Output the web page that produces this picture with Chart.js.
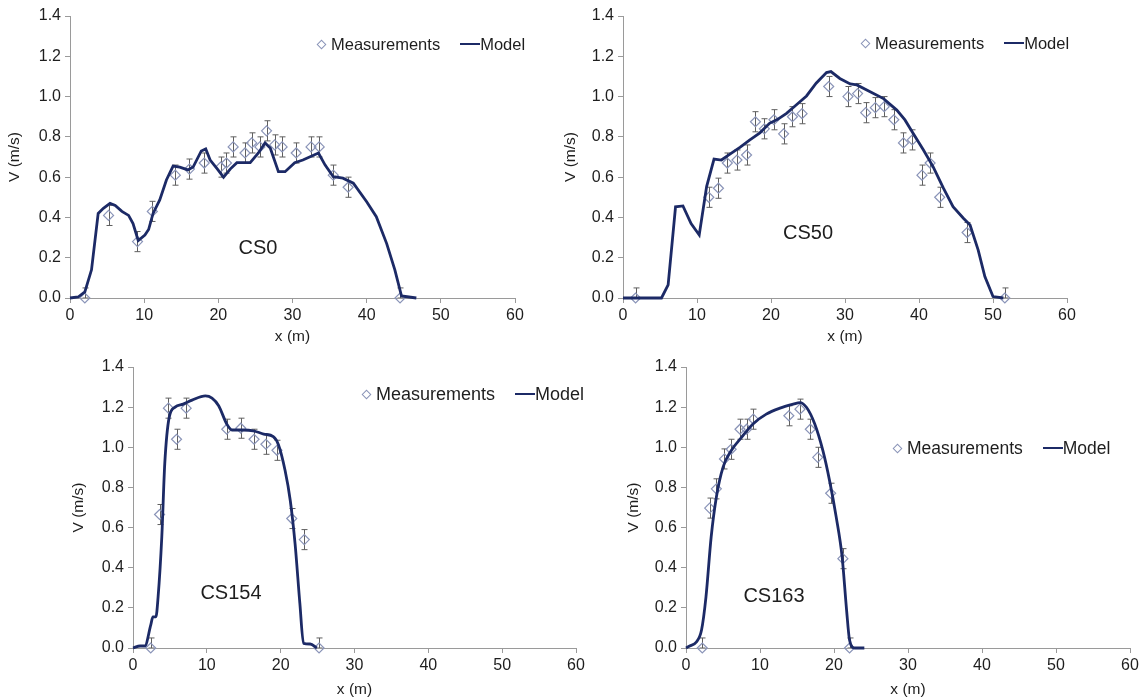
<!DOCTYPE html>
<html>
<head>
<meta charset="utf-8">
<script src="https://cdn.jsdelivr.net/npm/chart.js@4.4.1/dist/chart.umd.min.js"></script>
<style>
    body { margin: 0; background: #fff; width: 1145px; height: 700px; position: relative; overflow: hidden;
           font-family: "Liberation Sans", Arial, sans-serif; color: #1e1e1e; }
    canvas { position: absolute; }
    .legend { position: absolute; display: flex; align-items: center; white-space: nowrap; line-height: 18px; }
    .legend .diamond { width: 5px; height: 5px; border: 1px solid #8a94b8; transform: rotate(45deg); margin: 0 6px 0 2px; }
    .legend .line { width: 20px; height: 2.5px; background: #1c2a66; margin-left: 20px; }
    .cs { position: absolute; font-size: 20px; transform: translate(-50%, -50%); }
</style>
</head>
<body>
<canvas id="cs0" width="560" height="350" style="left:0;top:0"></canvas>
<canvas id="cs50" width="585" height="350" style="left:560px;top:0"></canvas>
<canvas id="cs154" width="540" height="350" style="left:60px;top:350px"></canvas>
<canvas id="cs163" width="525" height="350" style="left:620px;top:350px"></canvas>

<div class="legend" style="left:316px;top:35px;font-size:16.5px"><span class="diamond"></span>Measurements<span class="line"></span>Model</div>
<div class="legend" style="left:860px;top:34px;font-size:16.5px"><span class="diamond"></span>Measurements<span class="line"></span>Model</div>
<div class="legend" style="left:361px;top:385px;font-size:18px"><span class="diamond"></span>Measurements<span class="line"></span>Model</div>
<div class="legend" style="left:892px;top:439px;font-size:17.5px"><span class="diamond"></span>Measurements<span class="line"></span>Model</div>

<div class="cs" style="left:258px;top:247px">CS0</div>
<div class="cs" style="left:808px;top:232px">CS50</div>
<div class="cs" style="left:231px;top:592px">CS154</div>
<div class="cs" style="left:774px;top:595px">CS163</div>

<script>
// Velocity profiles
const xTicks = [0, 10, 20, 30, 40, 50, 60];
const vTicks = [0, 0.2, 0.4, 0.6, 0.8, 1.0, 1.2, 1.4];
const measErr = 0.05;

// CS0
const cs0MeasX = [2.0, 5.2, 9.1, 11.1, 14.2, 16.1, 18.1, 20.3, 21.1, 22.0, 23.6, 24.5, 25.6, 26.5, 27.6, 28.6, 30.5, 32.5, 33.6, 35.5, 37.5, 44.5];
const cs0MeasY = [0, 0.41, 0.28, 0.43, 0.61, 0.64, 0.67, 0.65, 0.67, 0.75, 0.72, 0.77, 0.75, 0.83, 0.76, 0.75, 0.72, 0.75, 0.75, 0.61, 0.55, 0];
const cs0ModelX = [0, 1.1, 2.0, 2.9, 3.8, 4.5, 5.4, 6.1, 7.0, 7.9, 8.5, 9.2, 10.1, 10.6, 11.2, 12.1, 13.0, 13.9, 14.8, 15.9, 16.6, 17.7, 18.3, 18.9, 19.8, 20.7, 21.6, 22.5, 24.3, 25.4, 26.3, 27.0, 28.1, 29.0, 30.3, 31.4, 33.5, 34.4, 35.5, 36.8, 38.2, 40.0, 41.3, 42.7, 43.8, 44.7, 46.7];
const cs0ModelY = [0, 0.005, 0.03, 0.14, 0.42, 0.445, 0.47, 0.46, 0.43, 0.41, 0.37, 0.285, 0.313, 0.34, 0.42, 0.487, 0.586, 0.655, 0.65, 0.636, 0.65, 0.73, 0.74, 0.685, 0.643, 0.6, 0.64, 0.672, 0.672, 0.72, 0.77, 0.745, 0.627, 0.627, 0.672, 0.685, 0.72, 0.66, 0.602, 0.595, 0.57, 0.478, 0.404, 0.27, 0.14, 0.01, 0];

// CS50
const cs50MeasX = [1.7, 11.6, 12.9, 14.1, 15.4, 16.7, 17.9, 19.1, 20.4, 21.7, 22.9, 24.2, 27.8, 30.4, 31.7, 32.8, 34.1, 35.3, 36.6, 37.9, 39.1, 40.4, 41.5, 42.8, 46.5, 51.6];
const cs50MeasY = [0, 0.5, 0.545, 0.67, 0.685, 0.71, 0.875, 0.84, 0.885, 0.815, 0.9, 0.915, 1.05, 1.0, 1.015, 0.92, 0.945, 0.95, 0.885, 0.77, 0.785, 0.61, 0.67, 0.5, 0.325, 0];
const cs50ModelX = [0, 5.2, 6.1, 7.1, 8.1, 9.2, 10.3, 11.3, 12.3, 13.3, 14.4, 15.8, 17.1, 18.5, 19.8, 20.9, 22.1, 23.4, 24.8, 26.1, 27.5, 28.1, 29.3, 30.7, 31.6, 33.4, 35.2, 37.0, 38.1, 39.2, 40.6, 41.9, 43.3, 44.6, 46.0, 46.9, 48.0, 48.9, 50.0, 51.4];
const cs50ModelY = [0, 0, 0.065, 0.453, 0.457, 0.37, 0.313, 0.553, 0.69, 0.685, 0.713, 0.748, 0.784, 0.82, 0.867, 0.887, 0.917, 0.958, 1.003, 1.066, 1.119, 1.124, 1.09, 1.063, 1.058, 1.024, 0.99, 0.933, 0.884, 0.818, 0.735, 0.652, 0.545, 0.453, 0.396, 0.362, 0.238, 0.106, 0.007, 0];

// CS154
const cs154MeasX = [2.4, 3.6, 4.8, 5.9, 7.2, 12.7, 14.6, 16.4, 18.0, 19.5, 21.5, 23.2, 25.2];
const cs154MeasY = [0, 0.665, 1.195, 1.04, 1.195, 1.09, 1.095, 1.04, 1.015, 0.985, 0.645, 0.54, 0];
const cs154ModelX = [0, 0.95, 1.6, 2.4, 2.7, 3.1, 3.4, 3.9, 4.3, 4.9, 5.7, 6.8, 8.0, 9.8, 10.7, 11.6, 12.7, 13.4, 14.9, 16.3, 17.7, 19.0, 19.7, 20.6, 21.3, 21.95, 22.6, 23.1, 24.0, 24.9];
const cs154ModelY = [0, 0.01, 0.01, 0.114, 0.155, 0.155, 0.255, 0.553, 0.917, 1.149, 1.2, 1.215, 1.235, 1.256, 1.245, 1.207, 1.116, 1.086, 1.086, 1.082, 1.066, 1.053, 1.013, 0.884, 0.735, 0.52, 0.222, 0.023, 0.02, 0];

// CS163
const cs163MeasX = [2.2, 3.2, 4.1, 5.2, 6.1, 7.3, 8.2, 9.1, 13.9, 15.4, 16.8, 17.8, 19.55, 21.2, 22.1];
const cs163MeasY = [0, 0.697, 0.793, 0.942, 0.99, 1.09, 1.09, 1.14, 1.157, 1.19, 1.09, 0.95, 0.771, 0.445, 0];
const cs163ModelX = [0, 0.5, 1.4, 2.1, 2.7, 3.4, 4.1, 5.0, 6.1, 7.5, 9.05, 10.85, 12.7, 14.5, 15.4, 16.3, 17.4, 18.5, 19.4, 20.3, 21.1, 21.7, 22.1, 22.8, 24.1];
const cs163ModelY = [0, 0.01, 0.03, 0.09, 0.255, 0.553, 0.751, 0.9, 0.983, 1.049, 1.116, 1.165, 1.195, 1.215, 1.223, 1.198, 1.116, 0.983, 0.834, 0.652, 0.453, 0.189, 0.04, 0, 0];

const navy = '#1c2a66';
const markerColor = '#8a94b8';
const axisColor = '#9a9a9a';
const textColor = '#1e1e1e';

Chart.defaults.font.family = "'Liberation Sans', Arial, sans-serif";
Chart.defaults.color = textColor;

// Draws vertical error bars for the measurement dataset
const errorBars = {
    id: 'errorBars',
    beforeDatasetsDraw(chart) {
        const ds = chart.data.datasets[1];
        const xs = chart.scales.x;
        const ys = chart.scales.y;
        const area = chart.chartArea;
        const ctx = chart.ctx;
        ctx.save();
        ctx.beginPath();
        ctx.rect(area.left - 10, area.top, area.right - area.left + 20, area.bottom - area.top);
        ctx.clip();
        ctx.strokeStyle = '#5f5f5f';
        ctx.lineWidth = 1;
        ds.data.forEach(p => {
            const px = Math.round(xs.getPixelForValue(p.x)) + 0.5;
            const top = ys.getPixelForValue(p.y + measErr);
            const bot = ys.getPixelForValue(Math.max(0, p.y - measErr));
            ctx.beginPath();
            ctx.moveTo(px, top);
            ctx.lineTo(px, bot);
            ctx.moveTo(px - 3, top);
            ctx.lineTo(px + 3, top);
            ctx.moveTo(px - 3, bot);
            ctx.lineTo(px + 3, bot);
            ctx.stroke();
        });
        ctx.restore();
    }
};

function renderPanel(id, measX, measY, modelX, modelY, box) {
    const ctx = document.getElementById(id).getContext('2d');
    const meas = measX.map((x, i) => ({ x: x, y: measY[i] }));
    const model = modelX.map((x, i) => ({ x: x, y: modelY[i] }));

    return new Chart(ctx, {
        type: 'scatter',
        data: {
            datasets: [{
                label: 'Model',
                data: model,
                showLine: true,
                borderColor: navy,
                borderWidth: 2.8,
                pointRadius: 0,
                cubicInterpolationMode: box.smooth ? 'monotone' : 'default',
                tension: 0,
                clip: false,
                order: 0
            }, {
                label: 'Measurements',
                data: meas,
                pointStyle: 'rectRot',
                pointRadius: 5,
                borderColor: markerColor,
                backgroundColor: 'rgba(255,255,255,0)',
                borderWidth: 1.2,
                clip: false,
                order: 1
            }]
        },
        options: {
            responsive: false,
            animation: false,
            events: [],
            layout: { padding: { left: 0, top: box.top, right: box.right, bottom: 0 } },
            plugins: { legend: { display: false }, tooltip: { enabled: false } },
            scales: {
                x: {
                    type: 'linear',
                    min: 0,
                    max: 60,
                    afterBuildTicks: s => { s.ticks = xTicks.map(v => ({ value: v })); },
                    ticks: { padding: 3, font: { size: 16 }, color: textColor },
                    grid: { drawOnChartArea: false, tickLength: 5, color: axisColor },
                    border: { color: axisColor },
                    title: { display: true, text: 'x (m)', font: { size: 15.5 }, color: textColor,
                             padding: { top: 0, bottom: box.xTitlePad } },
                    afterFit: s => { s.height = box.xAxisH; }
                },
                y: {
                    min: 0,
                    max: 1.4,
                    afterBuildTicks: s => { s.ticks = vTicks.map(v => ({ value: v })); },
                    ticks: { padding: 4, font: { size: 16 }, color: textColor, callback: v => v.toFixed(1) },
                    grid: { drawOnChartArea: false, tickLength: 5, color: axisColor },
                    border: { color: axisColor },
                    title: { display: true, text: 'V (m/s)', font: { size: 15.5 }, color: textColor,
                             padding: { top: box.yTitlePad, bottom: 0 } },
                    afterFit: s => { s.width = box.yAxisW; }
                }
            }
        },
        plugins: [errorBars]
    });
}

document.addEventListener('DOMContentLoaded', function() {
    renderPanel('cs0', cs0MeasX, cs0MeasY, cs0ModelX, cs0ModelY,
        { top: 16, right: 45, yAxisW: 70, xAxisH: 52, xTitlePad: 4, yTitlePad: 5, smooth: false });
    renderPanel('cs50', cs50MeasX, cs50MeasY, cs50ModelX, cs50ModelY,
        { top: 16, right: 78, yAxisW: 63, xAxisH: 52, xTitlePad: 4, yTitlePad: 1, smooth: false });
    renderPanel('cs154', cs154MeasX, cs154MeasY, cs154ModelX, cs154ModelY,
        { top: 17, right: 24, yAxisW: 73, xAxisH: 52, xTitlePad: 1, yTitlePad: 9, smooth: true });
    renderPanel('cs163', cs163MeasX, cs163MeasY, cs163ModelX, cs163ModelY,
        { top: 17, right: 15, yAxisW: 66, xAxisH: 52, xTitlePad: 1, yTitlePad: 4, smooth: true });
});
</script>
</body>
</html>
